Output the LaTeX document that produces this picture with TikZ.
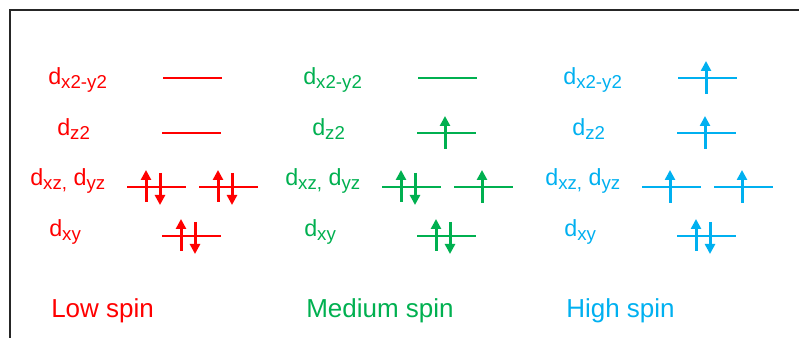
\documentclass[tikz,border=0pt]{standalone}
\usepackage{fontspec}
\setmainfont{Liberation Sans}
\usetikzlibrary{arrows.meta, calc}
\definecolor{cred}{HTML}{FF0000}
\definecolor{cgreen}{HTML}{00B050}
\definecolor{cblue}{HTML}{00B0F0}
\definecolor{cframe}{HTML}{262626}
% orbital label: d with a lowered, smaller index
\newcommand{\orb}[1]{d\raisebox{-2.8pt}{\fontsize{14}{15}\selectfont #1}}
\tikzset{
  every picture/.style={x=0.75pt, y=-0.75pt},
  lbl/.style={text=#1, font=\fontsize{17.5}{19}\selectfont, anchor=base west, inner sep=0pt},
  spintitle/.style={text=#1, font=\fontsize{19.5}{22}\selectfont, anchor=base west, inner sep=0pt},
  lvl/.style={draw=#1, line width=1.5pt},
  elec/.style={draw=#1, line width=2.25pt, -{Triangle[length=7.5pt, width=7.5pt]}},
  frame/.style={draw=cframe, line width=1.5pt},
}
\begin{document}
\begin{tikzpicture}
  \useasboundingbox (0,0) rectangle (799,338);
  \draw[frame] (799,10) -- (10,10) -- (10,338);
  % one column per spin state: colour / x offset / name / title
  \foreach \c/\o/\n/\t in {cred/0/ls/Low spin, cgreen/255/ms/Medium spin, cblue/515/hs/High spin} {
    \node[lbl=\c] (\n-lx2y2) at (48+\o,85) {\orb{x2-y2}};
    \node[lbl=\c] (\n-lz2) at (57+\o,136) {\orb{z2}};
    \node[lbl=\c] (\n-lxz) at (30+\o,186) {\orb{xz,} \orb{yz}};
    \node[lbl=\c] (\n-lxy) at (49+\o,237) {\orb{xy}};
    \node[spintitle=\c] (\n-title) at (51+\o,317) {\t};
    \draw[lvl=\c] (163+\o,78) coordinate (\n-x2y2) -- ++(59,0);
    \draw[lvl=\c] (162+\o,133) coordinate (\n-z2) -- ++(59,0);
    \draw[lvl=\c] (127+\o,187) coordinate (\n-xz) -- ++(59,0);
    \draw[lvl=\c] (199+\o,187) coordinate (\n-yz) -- ++(59,0);
    \draw[lvl=\c] (162+\o,236) coordinate (\n-xy) -- ++(59,0);
  }
  % paired electrons
  \foreach \l/\c in {ls-xz/cred, ls-yz/cred, ls-xy/cred, ms-xz/cgreen, ms-xy/cgreen, hs-xy/cblue} {
    \draw[elec=\c] ($(\l)+(19,15)$) -- ++(0,-32);
    \draw[elec=\c] ($(\l)+(33,-14)$) -- ++(0,32);
  }
  % unpaired electrons
  \foreach \l/\c in {ms-z2/cgreen, ms-yz/cgreen, hs-x2y2/cblue, hs-z2/cblue, hs-xz/cblue, hs-yz/cblue}
    \draw[elec=\c] ($(\l)+(28,16)$) -- ++(0,-33);
\end{tikzpicture}
\end{document}
